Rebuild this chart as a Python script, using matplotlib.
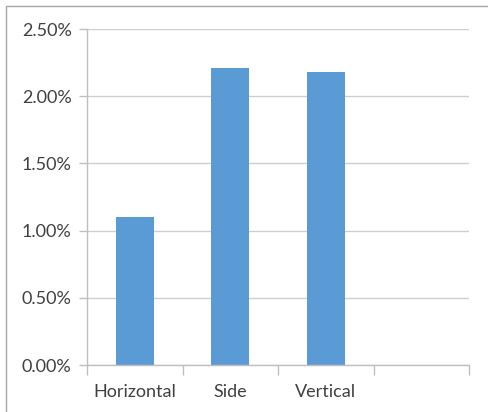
import numpy as np
import matplotlib.pyplot as plt
from matplotlib.patches import Rectangle
from matplotlib.ticker import FuncFormatter, FixedLocator

categories = ["Horizontal", "Side", "Vertical"]
n_slots = 4  # chart reserves one empty category slot on the right
values = [1.10, 2.21, 2.18]  # percent
y_ticks = [0.0, 0.5, 1.0, 1.5, 2.0, 2.5]

bar_color = "#5B9BD5"
grid_color = "#CFCFCF"
axis_color = "#BFBFBF"
text_color = "#404040"

plt.rcParams['font.family'] = ['Lato', 'DejaVu Sans']

fig = plt.figure(figsize=(4.88, 4.12), dpi=100)
W, H = 488, 412
ax = fig.add_axes([87 / W, (H - 365) / H, (469 - 87) / W, (365 - 29) / H])

# chart frame (cropped at right and bottom)
fig.patches.append(Rectangle((5.5 / W, -0.1), 1.2, (H - 6) / H + 0.1,
                             transform=fig.transFigure, fill=False,
                             edgecolor="#A6A6A6", linewidth=1.0))

x = np.arange(len(categories))
ax.bar(x, values, width=0.4, color=bar_color, zorder=3)

ax.set_xlim(-0.5, n_slots - 0.5)
ax.set_ylim(0, 2.5)
ax.set_yticks(y_ticks)
ax.yaxis.set_major_formatter(FuncFormatter(lambda v, _: f"{v:.2f}%"))
ax.yaxis.grid(True, color=grid_color, linewidth=1.0, zorder=0)

ax.set_xticks(x)
ax.set_xticklabels(categories)
ax.xaxis.set_minor_locator(FixedLocator(np.arange(n_slots + 1) - 0.5))
ax.tick_params(axis='x', which='major', length=0, pad=14, labelsize=13, labelcolor=text_color)
ax.tick_params(axis='x', which='minor', length=7, width=1, color=axis_color)
ax.tick_params(axis='y', length=6, width=1, color=axis_color, pad=5, labelsize=13,
               labelcolor=text_color)

for side in ("top", "right"):
    ax.spines[side].set_visible(False)
for side in ("left", "bottom"):
    ax.spines[side].set_color(axis_color)
    ax.spines[side].set_linewidth(1.0)
ax.spines["bottom"].set_zorder(4)

fig.savefig("out.png", dpi=100)
